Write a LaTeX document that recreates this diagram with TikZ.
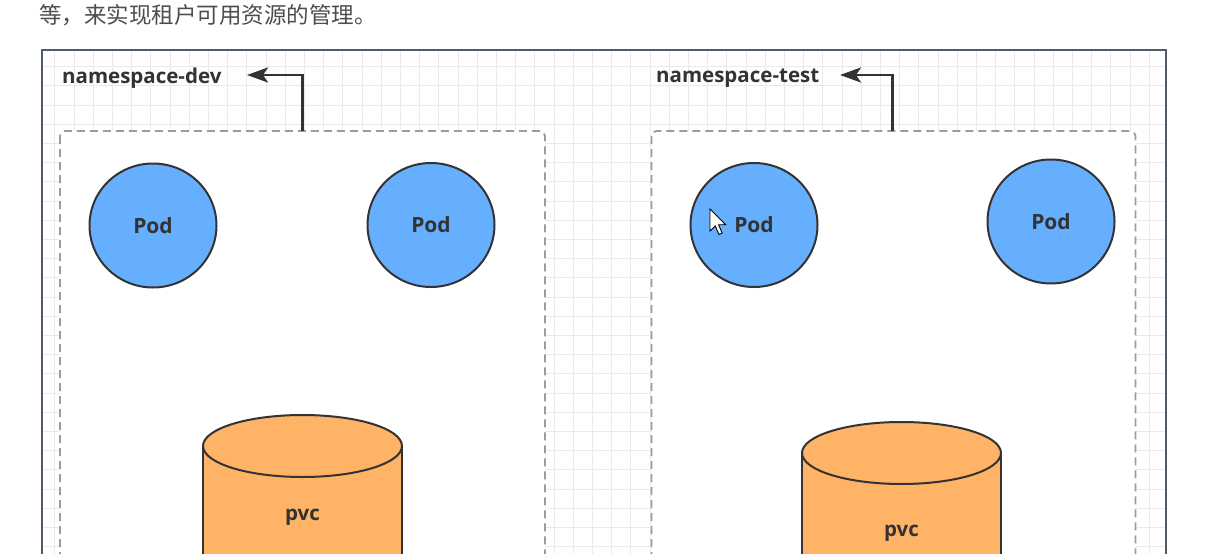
\documentclass[tikz,border=0pt]{standalone}
\usepackage{fontspec}
\newfontfamily\labfont{Open Sans}
\newfontfamily\cjk{Noto Sans CJK SC}
\usetikzlibrary{arrows.meta,shapes.geometric}
\definecolor{podblue}{HTML}{66AFFF}
\definecolor{pvcorange}{HTML}{FFB366}
\definecolor{ink}{HTML}{333333}
\definecolor{framec}{HTML}{4F5D6B}
\definecolor{dashc}{HTML}{9C9C9C}
\definecolor{gridc}{HTML}{EAEAEA}
\definecolor{toptext}{HTML}{4D4D4D}
\tikzset{
  gridline/.style={draw=gridc, line width=0.9pt},
  nsbox/.style={draw=dashc, fill=white, line width=1.8pt, dash pattern=on 8pt off 5pt, rounded corners=5pt},
  podnode/.style={ellipse, draw=ink, fill=podblue, line width=2pt, minimum width=127pt, minimum height=124pt, inner sep=0pt, font=\labfont\bfseries\fontsize{21}{24}\selectfont, text=ink},
  nslabel/.style={anchor=west, inner sep=0pt, font=\labfont\bfseries\fontsize{20.5}{24}\selectfont, text=ink},
  pvclabel/.style={inner sep=0pt, font=\labfont\bfseries\fontsize{20.5}{24}\selectfont, text=ink},
  cyl/.style={draw=ink, fill=pvcorange, line width=2pt},
  arr/.style={draw=ink, line width=2.8pt, -{Stealth[length=21pt,width=15pt,inset=5pt]}},
}
\begin{document}
\begin{tikzpicture}[x=1pt,y=-1pt]
\useasboundingbox (0,0) rectangle (1210,554);
\clip (0,0) rectangle (1210,554);
\fill[white] (0,0) rectangle (1210,554);
% top text
\node[anchor=west, inner sep=0pt, text=toptext, font=\cjk\fontsize{22.5}{26}\selectfont] (toptxt) at (39,15) {等，来实现租户可用资源的管理。};
% grid
\begin{scope}
\clip (42,50) rectangle (1166,600);
\foreach \i in {0,...,60} {
  \draw[gridline] (54.9+19.2*\i,50) -- (54.9+19.2*\i,600);
}
\foreach \j in {-1,...,30} {
  \draw[gridline] (42,66.7+19.2*\j) -- (1166,66.7+19.2*\j);
}
\end{scope}
\draw[framec, line width=1.5pt] (42,50) rectangle (1166,620);
% namespace boxes
\draw[nsbox] (60,131) rectangle (545,620);
\draw[nsbox] (651.5,131) rectangle (1135.5,620);
% labels and arrows
\node[nslabel] (ns1) at (62,78) {namespace-dev};
\node[nslabel] (ns2) at (656,78) {namespace-test};
\coordinate (d1) at (302.7,131);
\coordinate (t1) at (247,75);
\coordinate (d2) at (892.7,131);
\coordinate (t2) at (840,75);
\draw[arr] (d1) |- (t1);
\draw[arr] (d2) |- (t2);
% pods
\node[podnode] (pod1) at (153,225.5) {\raisebox{-2pt}{Pod}};
\node[podnode] (pod2) at (431,225) {\raisebox{-2pt}{Pod}};
\node[podnode] (pod3) at (754,225) {\raisebox{-2pt}{Pod}};
\node[podnode] (pod4) at (1051,221.5) {\raisebox{-1pt}{Pod}};
% cylinders
\path[cyl] (203,446) -- (203,620) -- (402,620) -- (402,446) -- cycle;
\draw[cyl] (302.5,446) ellipse[x radius=99.5, y radius=31];
\node[pvclabel] (pvc1) at (302.5,517) {pvc};
\path[cyl] (802,453) -- (802,620) -- (1001,620) -- (1001,453) -- cycle;
\draw[cyl] (901.5,453) ellipse[x radius=99.5, y radius=31];
\node[pvclabel] (pvc2) at (901.5,533) {pvc};
% mouse cursor
\begin{scope}[shift={(710,209)}, scale=1.38]
\draw[fill=white, draw=black, line width=0.9pt, line join=miter] (0,0) -- (0,16) -- (3.8,12.3) -- (6.5,18.5) -- (8.8,17.5) -- (6.2,11.4) -- (11.3,11.4) -- cycle;
\end{scope}
\end{tikzpicture}
\end{document}
